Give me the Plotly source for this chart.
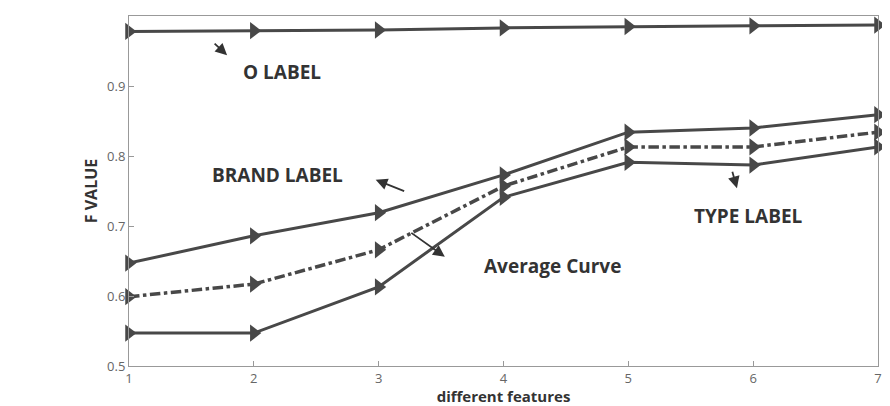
import plotly.graph_objects as go

features = [1, 2, 3, 4, 5, 6, 7]
o_label = [0.978, 0.979, 0.980, 0.983, 0.985, 0.986, 0.987]
brand_label = [0.647, 0.686, 0.719, 0.773, 0.834, 0.840, 0.859]
type_label = [0.547, 0.547, 0.613, 0.741, 0.791, 0.787, 0.813]
average_curve = [0.599, 0.617, 0.666, 0.757, 0.813, 0.813, 0.834]

line_col = "#484848"
fig = go.Figure()
for name, vals, dash in [("O LABEL", o_label, "solid"),
                         ("BRAND LABEL", brand_label, "solid"),
                         ("TYPE LABEL", type_label, "solid"),
                         ("Average Curve", average_curve, "dashdot")]:
    fig.add_trace(go.Scatter(
        x=features, y=vals, mode="lines+markers", name=name,
        line=dict(color=line_col, width=3.5 if dash == "dashdot" else 3, dash=dash),
        marker=dict(symbol="triangle-right", size=15, color=line_col),
        cliponaxis=False, showlegend=False))

lab_font = dict(family="Open Sans, sans-serif", size=19, color="#333333")
texts = [("O LABEL", 2.222, 0.92), ("BRAND LABEL", 2.19, 0.773),
         ("Average Curve", 4.39, 0.643), ("TYPE LABEL", 5.96, 0.714)]
for t, x, y in texts:
    fig.add_annotation(x=x, y=y, text="<b>%s</b>" % t, showarrow=False, font=lab_font)

arrows = [(1.786, 0.944, -14, -13), (2.976, 0.766, 30, 12),
          (3.53, 0.656, -35, -25), (5.87, 0.754, -5, -18)]
for x, y, ax, ay in arrows:
    fig.add_annotation(x=x, y=y, ax=ax, ay=ay, text="", showarrow=True,
                       arrowhead=2, arrowsize=1.3, arrowwidth=1.8, arrowcolor="#333333")

axis_common = dict(showgrid=False, zeroline=False, showline=True, linecolor="#999999",
                   linewidth=1, mirror=True, ticks="inside", ticklen=5, tickcolor="#999999",
                   automargin=False,
                   tickfont=dict(family="Open Sans, sans-serif", size=13, color="#666666"))
fig.update_xaxes(range=[1, 7], tickvals=features, ticktext=[str(v) for v in features],
                 title=dict(text="<b>different features</b>", standoff=2,
                            font=dict(family="Open Sans, sans-serif", size=15, color="#333333")),
                 **axis_common)
fig.update_yaxes(range=[0.5, 1], tickvals=[0.5, 0.6, 0.7, 0.8, 0.9, 1.0],
                 ticktext=["0.5", "0.6", "0.7", "0.8", "0.9", "1"],
                 title=dict(text="<b>F VALUE</b>", standoff=5,
                            font=dict(family="Open Sans, sans-serif", size=16, color="#333333")),
                 **axis_common)
fig.update_layout(width=874, height=398, margin=dict(l=121, r=4, t=8, b=40),
                  plot_bgcolor="white", paper_bgcolor="white")
fig.write_html("out.html")
